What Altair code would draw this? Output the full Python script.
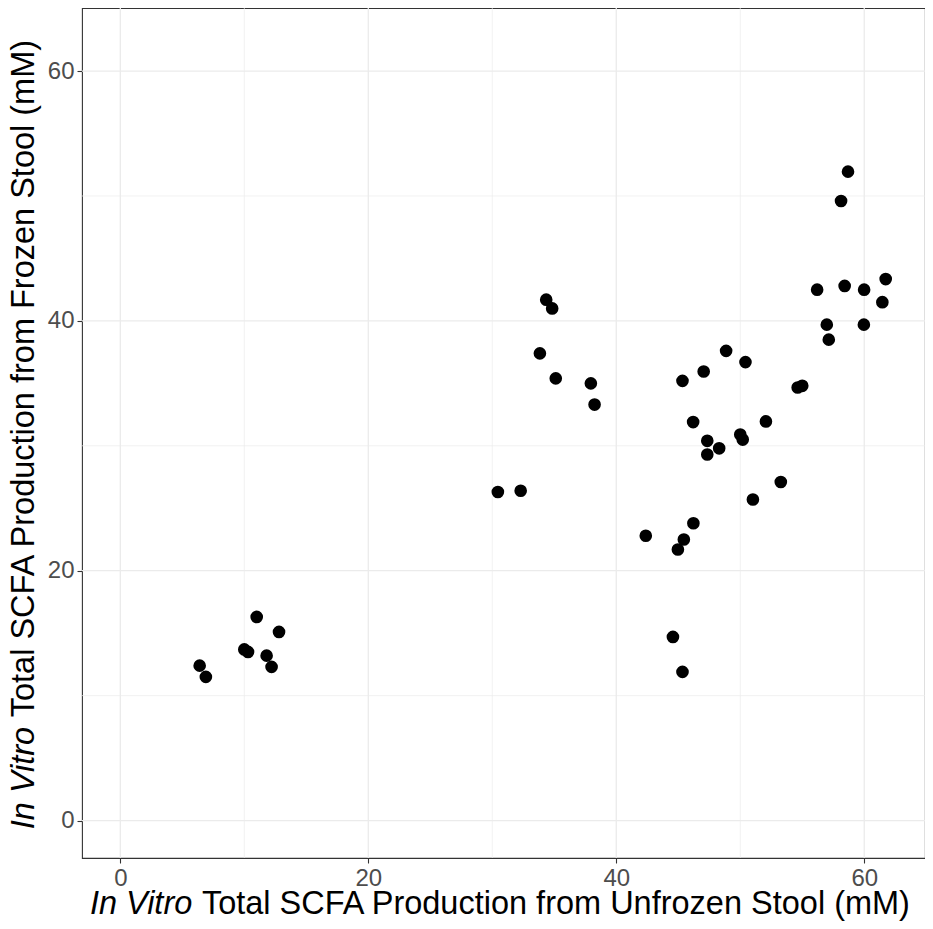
import altair as alt
import pandas as pd

# Data
unfrozen = [6.4, 6.9, 11.0, 10.0, 10.3, 11.8, 12.2, 12.8,
            34.35, 34.83, 33.84, 35.12, 37.95, 38.25, 30.45, 32.29,
            48.86, 50.42, 47.05, 45.34, 46.2, 52.07, 50.0, 50.2, 47.34, 48.3, 47.34,
            53.27, 51.02, 46.22, 42.38, 45.45, 44.97, 44.57, 45.34,
            58.69, 58.13, 61.73, 56.2, 58.42, 59.99, 61.46, 56.98, 59.97, 57.14, 54.63, 55.0]
frozen = [12.4, 11.5, 16.3, 13.7, 13.5, 13.2, 12.3, 15.1,
          41.7, 41.0, 37.4, 35.4, 35.0, 33.3, 26.3, 26.4,
          37.6, 36.7, 35.95, 35.2, 31.9, 31.95, 30.9, 30.5, 30.4, 29.8, 29.3,
          27.1, 25.7, 23.8, 22.8, 22.5, 21.7, 14.7, 11.9,
          51.95, 49.6, 43.35, 42.5, 42.8, 42.5, 41.5, 39.7, 39.7, 38.5, 34.67, 34.8]
major_ticks = [0, 20, 40, 60]
minor_ticks = [10, 30, 50]

df = pd.DataFrame({"unfrozen": unfrozen, "frozen": frozen})
major = pd.DataFrame({"v": major_ticks})
minor = pd.DataFrame({"v": minor_ticks})

W, H = 843, 850
LEFT = 74
FONT = "Liberation Sans"
xs = alt.Scale(domain=[-3.09, 64.9], nice=False, zero=False)
ys = alt.Scale(domain=[-3.0, 65.05], nice=False, zero=False)

axis_common = dict(values=major_ticks, grid=False, domain=False, tickColor="#333333",
                   tickSize=5, tickWidth=1.1, labelFont=FONT, labelFontSize=24,
                   labelColor="#4D4D4D", labelPadding=3, title=None)
xax = alt.Axis(**axis_common)
yax = alt.Axis(**axis_common)

grid_col = "#EBEBEB"
gx_major = alt.Chart(major).mark_rule(color=grid_col, strokeWidth=1.3).encode(
    x=alt.X("v:Q", scale=xs, axis=xax))
gy_major = alt.Chart(major).mark_rule(color=grid_col, strokeWidth=1.3).encode(
    y=alt.Y("v:Q", scale=ys, axis=yax))
gx_minor = alt.Chart(minor).mark_rule(color=grid_col, strokeWidth=0.7).encode(
    x=alt.X("v:Q", scale=xs, axis=xax))
gy_minor = alt.Chart(minor).mark_rule(color=grid_col, strokeWidth=0.7).encode(
    y=alt.Y("v:Q", scale=ys, axis=yax))

points = alt.Chart(df).mark_circle(size=160, color="black", opacity=1).encode(
    x=alt.X("unfrozen:Q", scale=xs, axis=xax),
    y=alt.Y("frozen:Q", scale=ys, axis=yax),
)

# Axis titles (mixed italic / regular) as text
FS = 32.5
ITALIC_EM = 3.168
SPACE_EM = 0.278
XT_EM = 25.452
YT_EM = 24.507
one = pd.DataFrame({"a": [0]})

x_center = W / 2
x_left = x_center - XT_EM * FS / 2
x_base = 906
xt1 = alt.Chart(one).mark_text(text="In Vitro", font=FONT, fontSize=FS, fontStyle="italic",
                               align="left", baseline="alphabetic", color="black").encode(
    x=alt.value(x_left), y=alt.value(x_base))
xt2 = alt.Chart(one).mark_text(text="Total SCFA Production from Unfrozen Stool (mM)", font=FONT,
                               fontSize=FS, align="left", baseline="alphabetic", color="black").encode(
    x=alt.value(x_left + (ITALIC_EM + SPACE_EM) * FS), y=alt.value(x_base))

y_center = 423
y_start = y_center + YT_EM * FS / 2
y_base = -48
yt1 = alt.Chart(one).mark_text(text="In Vitro", font=FONT, fontSize=FS, fontStyle="italic",
                               align="left", baseline="alphabetic", angle=270, color="black").encode(
    x=alt.value(y_base), y=alt.value(y_start))
yt2 = alt.Chart(one).mark_text(text="Total SCFA Production from Frozen Stool (mM)", font=FONT,
                               fontSize=FS, align="left", baseline="alphabetic", angle=270,
                               color="black").encode(
    x=alt.value(y_base), y=alt.value(y_start - (ITALIC_EM + SPACE_EM) * FS))

chart = alt.layer(gx_minor, gy_minor, gx_major, gy_major, points, xt1, xt2, yt1, yt2).properties(
    width=W, height=H,
    background="white",
    autosize=alt.AutoSizeParams(type="none"),
    padding={"left": LEFT, "top": 0, "right": 0, "bottom": 63},
).configure_view(stroke="#333333", strokeWidth=1.1)

chart.save("out.html", embed_options={"renderer": "svg", "actions": False})
